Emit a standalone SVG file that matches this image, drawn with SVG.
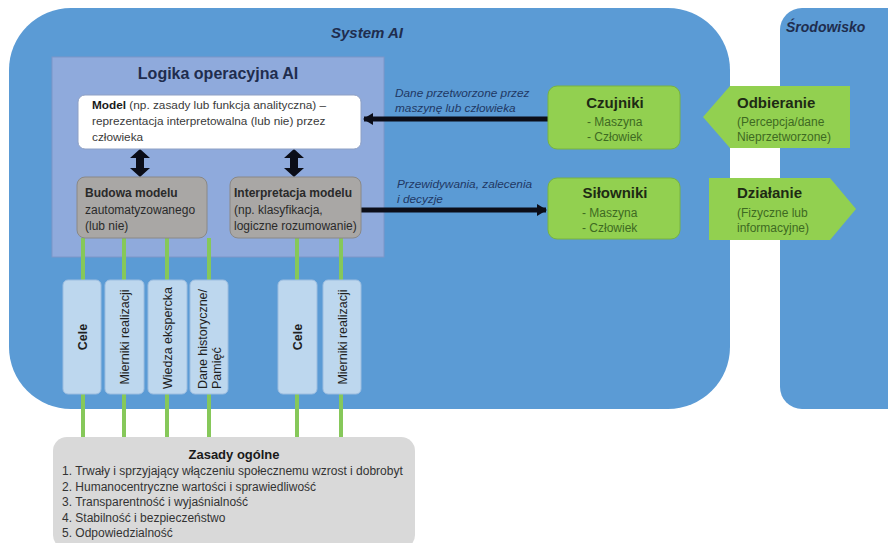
<svg xmlns="http://www.w3.org/2000/svg" width="888" height="543" viewBox="0 0 888 543">
<defs>
<style>
text{font-family:"Liberation Sans",Arial,sans-serif;}
.navy{fill:#1F2D4E;}
.bi{font-weight:bold;font-style:italic;}
.lbl{font-style:italic;font-size:11.8px;fill:#1F3864;}
.gray{fill:#A9A7A5;stroke:#8A8886;stroke-width:1;}
.gt{font-size:12px;fill:#2a2a2a;}
.green{fill:#92D050;stroke:#78B340;stroke-width:1;}
.gtitle{font-size:15px;font-weight:bold;fill:#1E2B14;}
.gsub{font-size:12px;fill:#3E6A22;}
.vbox{fill:#BDD7EE;stroke:#9CBDE0;stroke-width:1;}
.vt{font-size:12.5px;fill:#1f1f1f;}
.conn{stroke:#86C85A;stroke-width:4;}
.blk{stroke:#0B0D18;stroke-width:5;}
.zt{font-size:12px;fill:#333;}
</style>
<marker id="ah" viewBox="0 0 10 12" refX="9" refY="6" markerWidth="10" markerHeight="12" markerUnits="userSpaceOnUse" orient="auto">
<path d="M0,0 L10,6 L0,12 z" fill="#0B0D18"/>
</marker>
</defs>

<g id="system-ai">
<rect x="9" y="8" width="721" height="401" rx="62" ry="62" fill="#5B9BD5"/>
<text x="367" y="38" class="bi navy" font-size="15" text-anchor="middle">System AI</text>
</g>

<g id="srodowisko">
<rect x="780" y="8" width="140" height="401" rx="22" ry="22" fill="#5B9BD5"/>
<text x="786" y="32" class="bi navy" font-size="14">Środowisko</text>
</g>

<g id="logika">
<rect x="52" y="57" width="332" height="200" fill="#8FAADC" stroke="#7C96C8" stroke-width="1"/>
<text x="218" y="79" class="navy" font-size="16" font-weight="bold" text-anchor="middle">Logika operacyjna AI</text>
</g>

<g id="connectors">
<line class="conn" x1="83" y1="238" x2="83" y2="438"/>
<line class="conn" x1="124" y1="238" x2="124" y2="438"/>
<line class="conn" x1="167" y1="238" x2="167" y2="438"/>
<line class="conn" x1="209" y1="238" x2="209" y2="438"/>
<line class="conn" x1="297" y1="238" x2="297" y2="438"/>
<line class="conn" x1="341" y1="238" x2="341" y2="438"/>
<line class="blk" x1="548" y1="119" x2="364" y2="119" marker-end="url(#ah)"/>
<line class="blk" x1="361" y1="210" x2="546" y2="210" marker-end="url(#ah)"/>
<polygon points="140,149 150,158 144,158 144,168 150,168 140,177 130,168 136,168 136,158 130,158" fill="#0B0D18"/>
<polygon points="294,149 304,158 298,158 298,168 304,168 294,177 284,168 290,168 290,158 284,158" fill="#0B0D18"/>
<text class="lbl" x="395" y="97">Dane przetworzone przez</text>
<text class="lbl" x="395" y="112">maszynę lub człowieka</text>
<text class="lbl" x="397" y="188">Przewidywania, zalecenia</text>
<text class="lbl" x="397" y="203">i decyzje</text>
</g>

<g id="model">
<rect x="78" y="95" width="283" height="54" rx="7" ry="7" fill="#FFFFFF" stroke="#8EA0C4" stroke-width="1"/>
<text x="92" y="109" font-size="11.8" fill="#3a3a3a"><tspan font-weight="bold" fill="#1a1a1a">Model</tspan> (np. zasady lub funkcja analityczna) –</text>
<text x="92" y="125" font-size="11.8" fill="#3a3a3a">reprezentacja interpretowalna (lub nie) przez</text>
<text x="92" y="141" font-size="11.8" fill="#3a3a3a">człowieka</text>
</g>

<g id="budowa">
<rect class="gray" x="77" y="177" width="130" height="61" rx="8" ry="8"/>
<text class="gt" x="85" y="197" font-weight="bold">Budowa modelu</text>
<text class="gt" x="85" y="214">zautomatyzowanego</text>
<text class="gt" x="85" y="230">(lub nie)</text>
</g>

<g id="interpretacja">
<rect class="gray" x="230" y="177" width="131" height="61" rx="8" ry="8"/>
<text class="gt" x="234" y="197" font-weight="bold" font-size="11.5">Interpretacja modelu</text>
<text class="gt" x="234" y="214" font-size="11.5">(np. klasyfikacja,</text>
<text class="gt" x="234" y="230" font-size="11.5">logiczne rozumowanie)</text>
</g>

<g id="czujniki">
<rect class="green" x="548" y="86" width="132" height="63" rx="9" ry="9"/>
<text class="gtitle" x="615" y="108" text-anchor="middle">Czujniki</text>
<text class="gsub" x="587" y="126">- Maszyna</text>
<text class="gsub" x="587" y="141">- Człowiek</text>
</g>

<g id="silowniki">
<rect class="green" x="548" y="178" width="132" height="61" rx="9" ry="9"/>
<text class="gtitle" x="615" y="198" text-anchor="middle">Siłowniki</text>
<text class="gsub" x="582" y="217">- Maszyna</text>
<text class="gsub" x="582" y="232">- Człowiek</text>
</g>

<g id="odbieranie">
<polygon points="703,117 730,86 850,86 850,148 730,148" fill="#92D050"/>
<text class="gtitle" x="737" y="108">Odbieranie</text>
<text class="gsub" x="737" y="126">(Percepcja/dane</text>
<text class="gsub" x="737" y="141">Nieprzetworzone)</text>
</g>

<g id="dzialanie">
<polygon points="709,178 830,178 856,209 830,240 709,240" fill="#92D050"/>
<text class="gtitle" x="737" y="198">Działanie</text>
<text class="gsub" x="737" y="217">(Fizyczne lub</text>
<text class="gsub" x="737" y="232">informacyjne)</text>
</g>

<g id="cele1">
<rect class="vbox" x="63" y="280" width="38" height="114" rx="5" ry="5"/>
<text class="vt" transform="translate(86.5,337) rotate(-90)" text-anchor="middle" font-size="13" font-weight="bold">Cele</text>
</g>
<g id="mierniki1">
<rect class="vbox" x="105" y="280" width="39" height="114" rx="5" ry="5"/>
<text class="vt" transform="translate(128.5,337) rotate(-90)" text-anchor="middle">Mierniki realizacji</text>
</g>
<g id="wiedza">
<rect class="vbox" x="148" y="280" width="39" height="114" rx="5" ry="5"/>
<text class="vt" transform="translate(171.5,338) rotate(-90)" text-anchor="middle">Wiedza ekspercka</text>
</g>
<g id="dane">
<rect class="vbox" x="190" y="280" width="38" height="114" rx="5" ry="5"/>
<text class="vt" transform="translate(207,389) rotate(-90)">Dane historyczne/</text>
<text class="vt" transform="translate(220.5,389) rotate(-90)">Pamięć</text>
</g>
<g id="cele2">
<rect class="vbox" x="278" y="280" width="39" height="114" rx="5" ry="5"/>
<text class="vt" transform="translate(302,337) rotate(-90)" text-anchor="middle" font-size="13" font-weight="bold">Cele</text>
</g>
<g id="mierniki2">
<rect class="vbox" x="323" y="280" width="38" height="114" rx="5" ry="5"/>
<text class="vt" transform="translate(346.5,337) rotate(-90)" text-anchor="middle">Mierniki realizacji</text>
</g>

<g id="zasady">
<rect x="53" y="437" width="362" height="112" rx="14" ry="14" fill="#D9D9D9"/>
<text x="234" y="459" font-size="13" font-weight="bold" fill="#1a1a1a" text-anchor="middle">Zasady ogólne</text>
<text class="zt" x="62" y="475">1. Trwały i sprzyjający włączeniu społecznemu wzrost i dobrobyt</text>
<text class="zt" x="62" y="490.5">2. Humanocentryczne wartości i sprawiedliwość</text>
<text class="zt" x="62" y="506">3. Transparentność i wyjaśnialność</text>
<text class="zt" x="62" y="521.5">4. Stabilność i bezpieczeństwo</text>
<text class="zt" x="62" y="537">5. Odpowiedzialność</text>
</g>
</svg>
